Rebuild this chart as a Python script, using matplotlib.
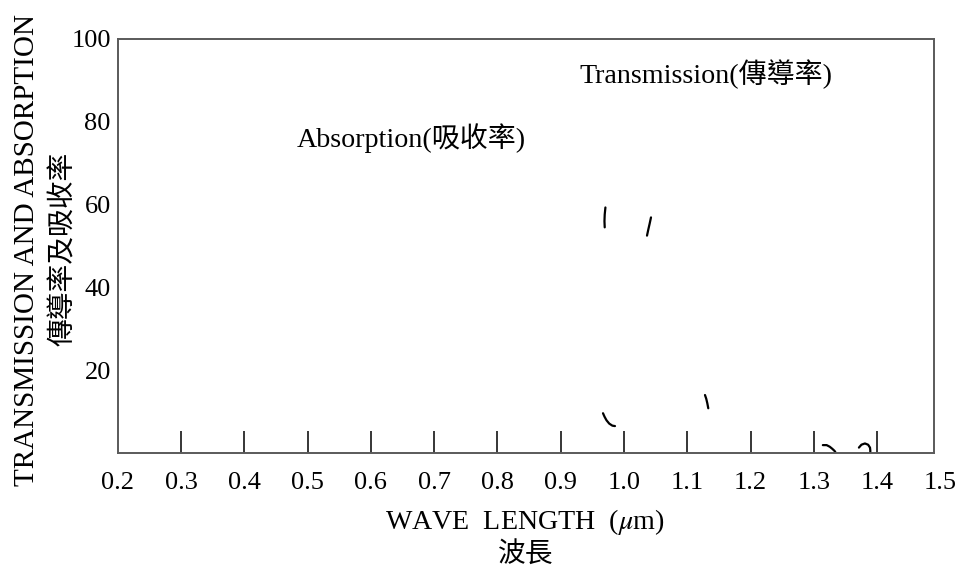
import matplotlib
matplotlib.use("Agg")
import matplotlib.pyplot as plt
from matplotlib.ticker import FixedLocator

plt.rcParams['font.family'] = ['Liberation Serif', 'Noto Sans CJK TC', 'DejaVu Sans']
plt.rcParams['mathtext.fontset'] = 'stix'

# Axis ranges and tick labels
x_min, x_max, x_frame = 0.2, 1.5, 1.49
x_ticks = [0.2, 0.3, 0.4, 0.5, 0.6, 0.7, 0.8, 0.9, 1.0, 1.1, 1.2, 1.3, 1.4, 1.5]
x_tick_labels = ["0.2", "0.3", "0.4", "0.5", "0.6", "0.7", "0.8", "0.9",
                 "1.0", "1.1", "1.2", "1.3", "1.4", "1.5"]
x_minor_ticks = [0.3, 0.4, 0.5, 0.6, 0.7, 0.8, 0.9, 1.0, 1.1, 1.2, 1.3, 1.4]
y_ticks = [20, 40, 60, 80, 100]
y_tick_labels = ["20", "40", "60", "80", "100"]

# Visible pieces of the transmission / absorption curves
seg1_x = [0.9705, 0.9694, 0.9690, 0.9694]
seg1_y = [59.3, 57.6, 56.0, 54.5]
seg2_x = [1.0425, 1.0404, 1.0383, 1.0362]
seg2_y = [56.9, 55.4, 54.0, 52.5]
seg3_x = [0.9667, 0.9690, 0.9722, 0.9765, 0.9815, 0.9856]
seg3_y = [9.6, 8.8, 7.9, 7.1, 6.6, 6.5]
seg4_x = [1.1278, 1.1298, 1.1315, 1.1330]
seg4_y = [14.0, 13.1, 12.0, 10.8]
seg5_x = [1.3140, 1.3200, 1.3250, 1.3290, 1.3325, 1.3345]
seg5_y = [1.9, 1.9, 1.5, 1.0, 0.5, 0.0]
seg6_x = [1.3710, 1.3750, 1.3805, 1.3855, 1.3885, 1.3890, 1.3890]
seg6_y = [1.3, 2.0, 2.3, 2.0, 1.3, 0.6, 0.0]
segments = [(seg1_x, seg1_y), (seg2_x, seg2_y), (seg3_x, seg3_y),
            (seg4_x, seg4_y), (seg5_x, seg5_y), (seg6_x, seg6_y)]

fig = plt.figure(figsize=(9.64, 5.69), dpi=100)
ax = fig.add_axes([0.1221, 0.2039, 0.9757 - 0.1221, 0.9315 - 0.2039])

# frame closes slightly inside the last tick label
ax.spines['right'].set_position(('data', x_frame))
ax.spines['top'].set_bounds(x_min, x_frame)
ax.spines['bottom'].set_bounds(x_min, x_frame)
for side in ['left', 'bottom', 'top', 'right']:
    ax.spines[side].set_color('#5a5a5a')
    ax.spines[side].set_linewidth(1.4)

for sx, sy in segments:
    ax.plot(sx, sy, color='black', lw=1.6, solid_capstyle='round')

ax.set_xlim(x_min, x_max)
ax.set_ylim(0, 100)

ax.set_xticks(x_ticks)
ax.set_xticklabels(x_tick_labels, fontsize=19)
ax.xaxis.remove_overlapping_locs = False
ax.xaxis.set_minor_locator(FixedLocator(x_minor_ticks))
ax.tick_params(axis='x', which='major', length=0, pad=14)
ax.tick_params(axis='x', which='minor', direction='in', length=16,
               width=1.1, color='black')
ax.set_yticks(y_ticks)
ax.set_yticklabels(y_tick_labels, fontsize=19)
ax.tick_params(axis='y', which='major', length=0, pad=5)

ax.text(0.93, 91.5, "Transmission(傳導率)", fontsize=20.2, va='center', ha='left')
ax.text(0.483, 76.0, "Absorption(吸收率)", fontsize=20.2, va='center', ha='left')

fig.text(0.028, 0.56, "TRANSMISSION AND ABSORPTION", rotation=90,
         fontsize=21, ha='center', va='center')
fig.text(0.066, 0.562, "傳導率及吸收率", rotation=90,
         fontsize=20, ha='center', va='center')
fig.text(0.545, 0.0826, r"WAVE  LENGTH  ($\mu$m)", fontsize=20.2,
         ha='center', va='center')
fig.text(0.545, 0.0246, "波長", fontsize=20, ha='center', va='center')

fig.savefig("out.png", dpi=100)
